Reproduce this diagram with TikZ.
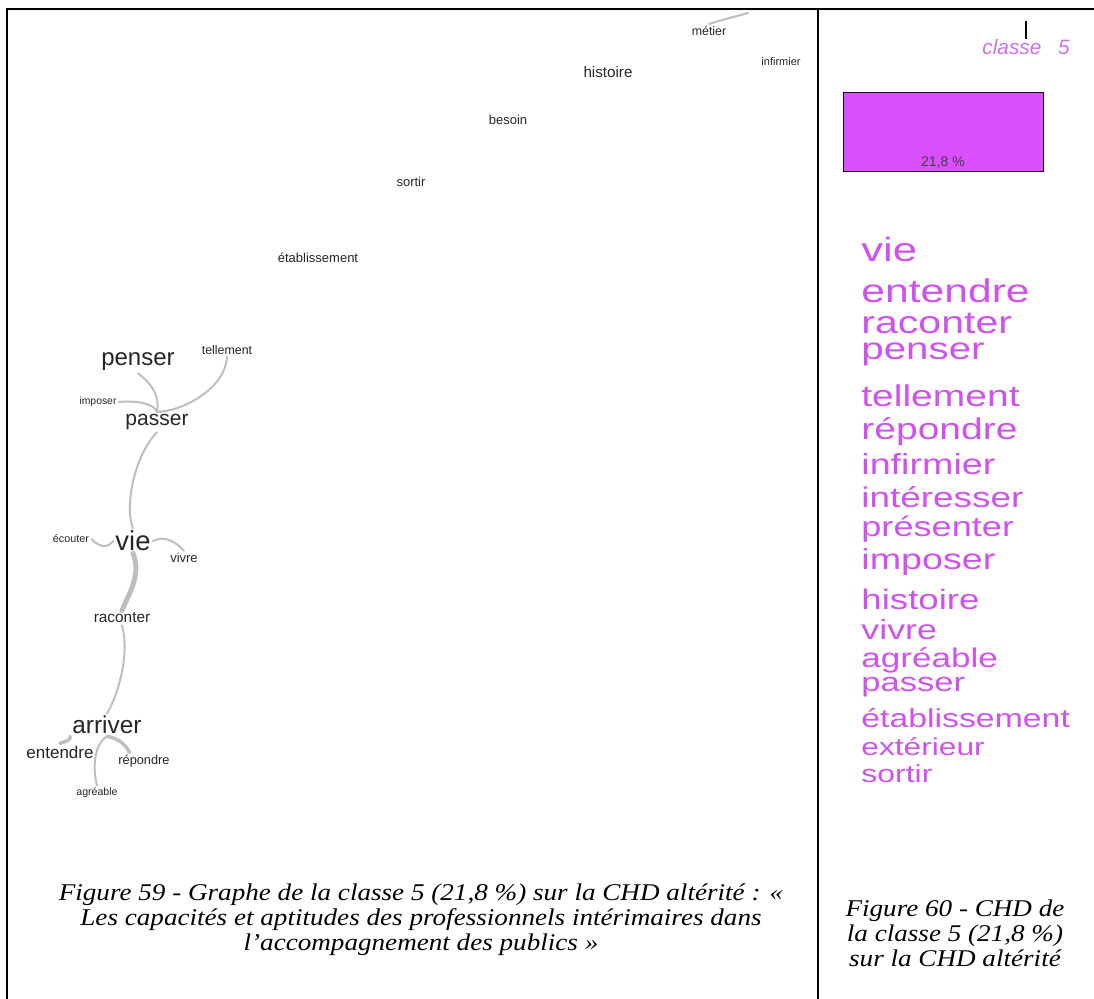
\documentclass[tikz,border=0pt]{standalone}
\usepackage{fontspec}
\setmainfont[FakeStretch=1.13]{Liberation Serif}
\newfontfamily\plotfont{Liberation Sans}
\newfontfamily\cloudfont[FakeStretch=1.3]{Liberation Sans}
\usetikzlibrary{backgrounds}
\usepackage{xcolor}

\definecolor{cloudviolet}{RGB}{208,82,238}
\definecolor{barviolet}{RGB}{218,78,252}
\definecolor{classviolet}{RGB}{200,115,235}
\definecolor{linkgray}{RGB}{190,190,190}

\tikzset{
  gword/.style={font=\plotfont\fontsize{#1}{#1}\selectfont, text=black!85, inner sep=1pt},
  cword/.style={font=\cloudfont\fontsize{#1}{#1}\selectfont, text=cloudviolet, anchor=base west, inner sep=0pt},
  link/.style={draw=linkgray, line width=1pt, line cap=round},
  midlink/.style={link, line width=1.7pt},
  heavylink/.style={link, line width=2.5pt},
  frame/.style={line width=1pt},
  caption/.style={font=\itshape\fontsize{12}{12.5}\selectfont, align=center}
}

\begin{document}
\begin{tikzpicture}[x=0.5pt, y=-0.5pt]
      \useasboundingbox (0,0) rectangle (1094,999);
      \draw[frame] (7,999) -- (7,9) -- (1094,9);
      \draw[frame] (818,9) -- (818,999);

      \node[gword=6.2] (metier) at (709,31) {métier};
      \node[gword=5.5] (infirmier) at (781,62) {infirmier};
      \node[gword=7.6] (histoire) at (608,72) {histoire};
      \node[gword=6.5] (besoin) at (508,120) {besoin};
      \node[gword=6.5] (sortir) at (411,182) {sortir};
      \node[gword=6.5] (etablissement) at (318,258) {établissement};
      \node[gword=6.2] (tellement) at (227,350) {tellement};
      \node[gword=12] (penser) at (138,362) {penser};
      \node[gword=5.2] (imposer) at (98,402) {imposer};
      \node[gword=10.5] (passer) at (157,422) {passer};
      \node[gword=5.4] (ecouter) at (71,539) {écouter};
      \node[gword=13.7] (vie) at (133,541) {vie};
      \node[gword=6.5] (vivre) at (184,558) {vivre};
      \node[gword=7.7] (raconter) at (122,618) {raconter};
      \node[gword=12.2] (arriver) at (107,725) {arriver};
      \node[gword=8.5] (entendre) at (60,752) {entendre};
      \node[gword=6.4] (repondre) at (144,761) {répondre};
      \node[gword=5.3] (agreable) at (97,793) {agréable};
      \coordinate (metiertail) at (748,13);

      \begin{scope}[on background layer]
        \draw[link] (metier.north) .. controls (722,20) .. (metiertail);
        \draw[link] (penser.south) .. controls (152,384) and (160,396) .. (passer.north);
        \draw[link] (imposer.east) .. controls (140,400) and (155,405) .. (passer.north);
        \draw[link] (tellement.south) .. controls (225,390) and (180,412) .. (passer.north);
        \draw[link] (passer.south) .. controls (135,455) and (124,505) .. (vie.north);
        \draw[link] (ecouter.east) .. controls (100,548) and (108,548) .. (vie.west);
        \draw[link] (vie.east) .. controls (165,535) and (176,542) .. (vivre.north);
        \draw[heavylink] (vie.south) .. controls (142,575) and (128,595) .. (raconter.north);
        \draw[link] (raconter.south) .. controls (130,655) and (118,695) .. (arriver.north);
        \draw[midlink] (arriver.south west) .. controls (70,740) .. (entendre.north);
        \draw[midlink] (arriver.south) .. controls (117,738) and (126,744) .. (repondre.150);
        \draw[link] (arriver.south) .. controls (93,745) and (93,770) .. (agreable.north);
      \end{scope}

      \node[font=\plotfont\itshape\fontsize{10.4}{10.4}\selectfont, text=classviolet, inner sep=0pt]
        (classe) at (1026,47) {classe\hspace{0.8em}5};
      \coordinate (classetick) at (1026,21);
      \draw[line width=0.7pt] (classetick) -- (classe.north);
      \draw[fill=barviolet, draw=black!75!violet, line width=0.5pt]
        (843,93) rectangle (1043,172);
      \node[font=\plotfont\fontsize{7}{7}\selectfont, text=black!75] (share) at (943,163) {21,8 \%};

      \node[cword=16.8] (cvie) at (861,262) {vie};
      \node[cword=16.4] (centendre) at (861,303) {entendre};
      \node[cword=15.8] (craconter) at (861,334) {raconter};
      \node[cword=15.5] (cpenser) at (861,360) {penser};
      \node[cword=15] (ctellement) at (861,407) {tellement};
      \node[cword=15] (crepondre) at (861,440) {répondre};
      \node[cword=14.5] (cinfirmier) at (861,475) {infirmier};
      \node[cword=14.2] (cinteresser) at (861,508) {intéresser};
      \node[cword=13.9] (cpresenter) at (861,537) {présenter};
      \node[cword=14.5] (cimposer) at (861,570) {imposer};
      \node[cword=14.1] (chistoire) at (861,610) {histoire};
      \node[cword=13.8] (cvivre) at (861,640) {vivre};
      \node[cword=13.5] (cagreable) at (861,668) {agréable};
      \node[cword=13.3] (cpasser) at (861,692) {passer};
      \node[cword=13] (cetablissement) at (861,728) {établissement};
      \node[cword=12.2] (cexterieur) at (861,756) {extérieur};
      \node[cword=12.3] (csortir) at (861,783) {sortir};

      \node[caption] (figleft) at (421,920)
        {Figure 59 - Graphe de la classe 5 (21,8 \%) sur la CHD altérité : «\\
         Les capacités et aptitudes des professionnels intérimaires dans\\
         l’accompagnement des publics »};
      \node[caption] (figright) at (955,933)
        {Figure 60 - CHD de\\ la classe 5 (21,8 \%)\\ sur la CHD altérité};
    \end{tikzpicture}
\end{document}
